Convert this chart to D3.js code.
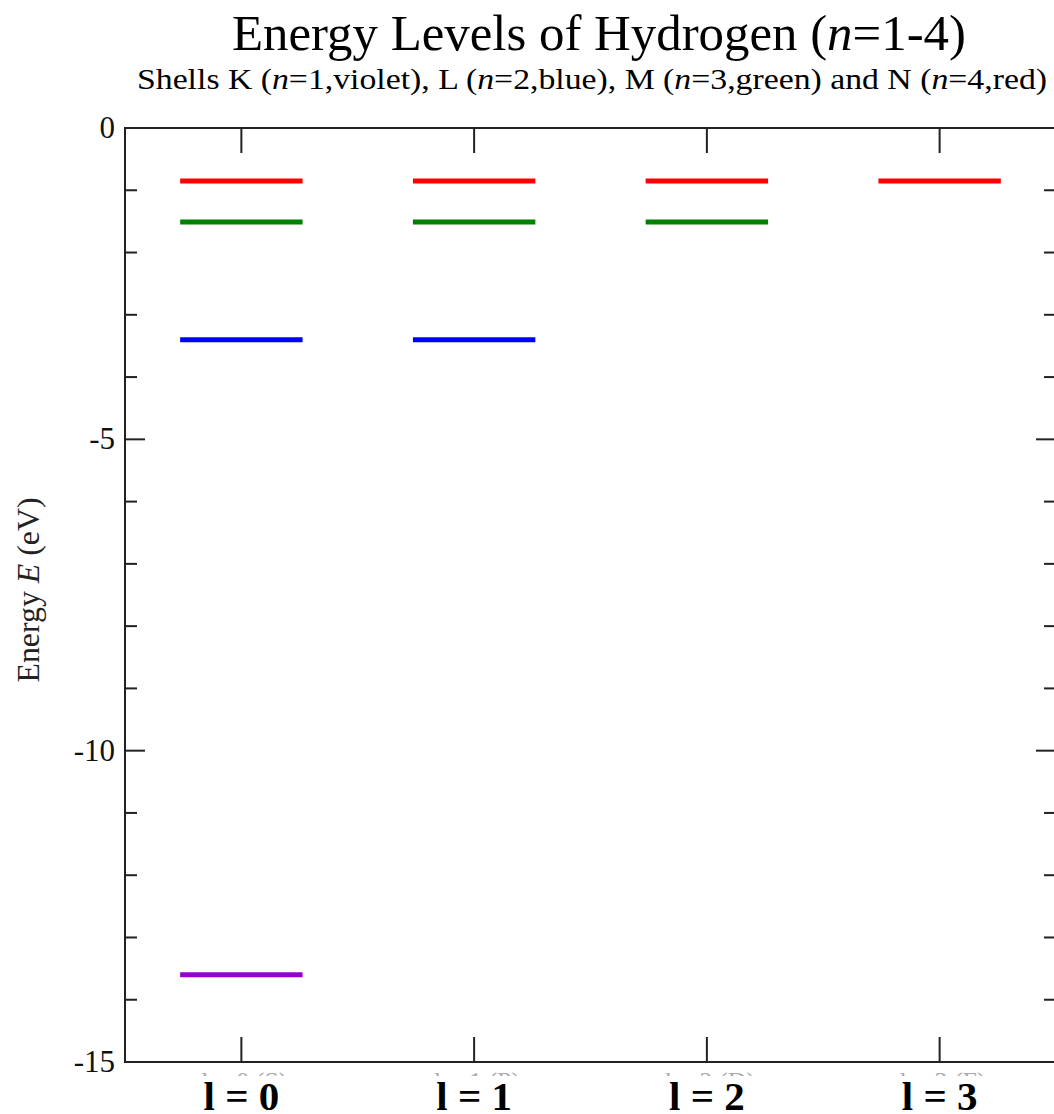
<!DOCTYPE html>
<html>
<head>
<meta charset="utf-8">
<script src="https://cdn.jsdelivr.net/npm/d3@7"></script>
<style>
  body { margin: 0; background: #fff; }
  svg { display: block; }
  text { font-family: "Liberation Serif", "Times New Roman", Times, serif; }
</style>
</head>
<body>
<div id="chart"></div>
<script>
// data
var shells = ["K", "L", "M", "N"];
var nValues = [1, 2, 3, 4];
var energies = [-13.6, -3.4, -1.51, -0.85];
var shellColors = ["#9400d3", "#0000ff", "#008000", "#ff0000"];
var lValues = [0, 1, 2, 3];
var lLabels = ["l = 0", "l = 1", "l = 2", "l = 3"];
var subLabels = ["l = 0 (S)", "l = 1 (P)", "l = 2 (D)", "l = 3 (F)"];
var majorTicks = [0, -5, -10, -15];
var minorTicks = [-1, -2, -3, -4, -6, -7, -8, -9, -11, -12, -13, -14];

var width = 1054, height = 1114;
var margin = {top: 128, left: 125, bottom: 1062, right: 1056};

// one level per (n, l) with l < n
var levels = [];
nValues.forEach(function(n, i) {
  lValues.forEach(function(l) {
    if (l < n) levels.push({n: n, l: l, e: energies[i], color: shellColors[i]});
  });
});

var svg = d3.select("#chart").append("svg")
    .attr("width", width)
    .attr("height", height);

var x = d3.scaleLinear().domain([-0.5, 3.5]).range([margin.left, margin.right]);
var y = d3.scaleLinear().domain([0, -15]).range([margin.top, margin.bottom]);

var axisColor = "#222";

// frame
svg.append("rect")
    .attr("x", margin.left).attr("y", margin.top)
    .attr("width", margin.right - margin.left)
    .attr("height", margin.bottom - margin.top)
    .attr("fill", "none").attr("stroke", axisColor).attr("stroke-width", 2);

// left / right ticks
var tickG = svg.append("g").attr("stroke", axisColor).attr("stroke-width", 2);
majorTicks.forEach(function(t) {
  tickG.append("line").attr("x1", margin.left).attr("x2", margin.left + 20)
      .attr("y1", y(t)).attr("y2", y(t));
  tickG.append("line").attr("x1", margin.right).attr("x2", margin.right - 20)
      .attr("y1", y(t)).attr("y2", y(t));
});
minorTicks.forEach(function(t) {
  tickG.append("line").attr("x1", margin.left).attr("x2", margin.left + 12)
      .attr("y1", y(t)).attr("y2", y(t));
  tickG.append("line").attr("x1", margin.right).attr("x2", margin.right - 12)
      .attr("y1", y(t)).attr("y2", y(t));
});
// top / bottom ticks at each l
lValues.forEach(function(l) {
  tickG.append("line").attr("x1", x(l)).attr("x2", x(l))
      .attr("y1", margin.top).attr("y2", margin.top + 25);
  tickG.append("line").attr("x1", x(l)).attr("x2", x(l))
      .attr("y1", margin.bottom).attr("y2", margin.bottom - 25);
});

// y tick labels
svg.append("g").selectAll("text")
  .data(majorTicks)
  .enter().append("text")
    .attr("x", margin.left - 10)
    .attr("y", function(d) { return y(d) + 10; })
    .attr("text-anchor", "end")
    .attr("font-size", 31)
    .attr("fill", "#111")
    .text(function(d) { return d; });

// energy levels
svg.append("g").selectAll("line")
  .data(levels)
  .enter().append("line")
    .attr("x1", function(d) { return x(d.l - 0.263); })
    .attr("x2", function(d) { return x(d.l + 0.263); })
    .attr("y1", function(d) { return y(d.e); })
    .attr("y2", function(d) { return y(d.e); })
    .attr("stroke", function(d) { return d.color; })
    .attr("stroke-width", 5);

// title
svg.append("text")
    .attr("x", 599).attr("y", 50)
    .attr("text-anchor", "middle")
    .attr("font-size", 50)
    .attr("textLength", 734).attr("lengthAdjust", "spacingAndGlyphs")
    .html("Energy Levels of Hydrogen (<tspan font-style='italic'>n</tspan>=1-4)");

svg.append("text")
    .attr("x", 592).attr("y", 89)
    .attr("text-anchor", "middle")
    .attr("font-size", 30)
    .attr("textLength", 910).attr("lengthAdjust", "spacingAndGlyphs")
    .html("Shells K (<tspan font-style='italic'>n</tspan>=1,violet), L (<tspan font-style='italic'>n</tspan>=2,blue), M (<tspan font-style='italic'>n</tspan>=3,green) and N (<tspan font-style='italic'>n</tspan>=4,red)");

// y axis label
svg.append("text")
    .attr("transform", "translate(39,590) rotate(-90)")
    .attr("text-anchor", "middle")
    .attr("font-size", 31)
    .attr("textLength", 185).attr("lengthAdjust", "spacingAndGlyphs")
    .attr("fill", "#222")
    .html("Energy <tspan font-style='italic'>E</tspan> (eV)");

// original x tick labels, only their top edge shows
svg.append("clipPath").attr("id", "cut")
  .append("rect").attr("x", 0).attr("y", 1071).attr("width", width).attr("height", 5);
svg.append("g").attr("clip-path", "url(#cut)").selectAll("text")
  .data(lValues)
  .enter().append("text")
    .attr("x", function(d) { return x(d) + 3; })
    .attr("y", 1090)
    .attr("text-anchor", "middle")
    .attr("font-size", 26)
    .attr("fill", "#aaa")
    .text(function(d, i) { return subLabels[i]; });

// bold l labels
svg.append("g").selectAll("text")
  .data(lValues)
  .enter().append("text")
    .attr("x", function(d) { return x(d); })
    .attr("y", 1110)
    .attr("text-anchor", "middle")
    .attr("font-weight", "bold")
    .attr("font-size", 41)
    .attr("fill", "#000")
    .text(function(d, i) { return lLabels[i]; });
</script>
</body>
</html>
